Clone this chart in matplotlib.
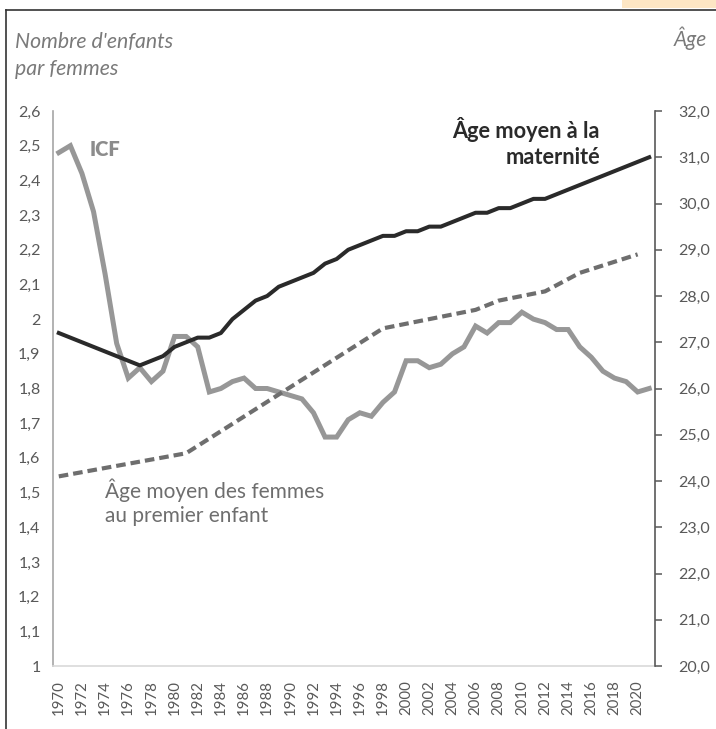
import numpy as np
import matplotlib
matplotlib.use("Agg")
import matplotlib.pyplot as plt
from matplotlib.lines import Line2D
from matplotlib.patches import Rectangle

plt.rcParams["font.family"] = ["Lato", "DejaVu Sans"]

# ── Data ─────────────────────────────────────────────────────────────────────
YEARS = list(range(1970, 2022))

# Indicateur conjoncturel de fécondité (left axis)
ICF = [2.48, 2.50, 2.42, 2.31, 2.13, 1.93, 1.83, 1.86, 1.82, 1.85,
       1.95, 1.95, 1.92, 1.79, 1.80, 1.82, 1.83, 1.80, 1.80, 1.79,
       1.78, 1.77, 1.73, 1.66, 1.66, 1.71, 1.73, 1.72, 1.76, 1.79,
       1.88, 1.88, 1.86, 1.87, 1.90, 1.92, 1.98, 1.96, 1.99, 1.99,
       2.02, 2.00, 1.99, 1.97, 1.97, 1.92, 1.89, 1.85, 1.83, 1.82,
       1.79, 1.80]

# Âge moyen à la maternité (right axis), None = no point, line joins neighbours
AGE_MAT = [27.2, None, None, None, None, None, None, 26.5, 26.6, 26.7,
           26.9, 27.0, 27.1, 27.1, 27.2, 27.5, 27.7, 27.9, 28.0, 28.2,
           28.3, 28.4, 28.5, 28.7, 28.8, 29.0, 29.1, 29.2, 29.3, 29.3,
           29.4, 29.4, 29.5, 29.5, 29.6, 29.7, 29.8, 29.8, 29.9, 29.9,
           30.0, 30.1, 30.1, None, None, None, None, None, None, None,
           None, 31.0]

# Âge moyen des femmes au premier enfant (right axis)
AGE_FIRST = [24.1, None, None, None, None, None, None, None, None, None,
             None, 24.6, None, None, None, None, None, None, None, None,
             None, None, None, None, None, None, None, None, 27.3, None,
             None, None, None, None, None, None, 27.7, None, 27.9, None,
             None, None, 28.1, None, None, 28.5, None, None, None, None,
             28.9, None]

LEFT_TICKS = [1.0, 1.1, 1.2, 1.3, 1.4, 1.5, 1.6, 1.7, 1.8,
              1.9, 2.0, 2.1, 2.2, 2.3, 2.4, 2.5, 2.6]
RIGHT_TICKS = [20, 21, 22, 23, 24, 25, 26, 27, 28, 29, 30, 31, 32]
XTICKS = YEARS[::2]

# ── Styling ──────────────────────────────────────────────────────────────────
W, H = 716, 729
C_ICF = "#979797"
C_MAT = "#2a2a2a"
C_FIRST = "#6e6e6e"
C_TICK = "#595959"


def fx(px):
    return px / W


def fy(py):
    return 1 - py / H


def series(values):
    x = [y for y, v in zip(YEARS, values) if v is not None]
    y = [v for v in values if v is not None]
    return x, y


def fr(v, fmt):
    return (fmt % v).replace(".", ",")


fig = plt.figure(figsize=(W / 100, H / 100), dpi=100)
ax = fig.add_axes([fx(53), fy(666), fx(655) - fx(53), fy(111) - fy(666)])
ax2 = ax.twinx()

ax.plot(YEARS, ICF, color=C_ICF, lw=3.6, solid_joinstyle="miter", zorder=2)

xm, ym = series(AGE_MAT)
ax2.plot(xm, ym, color=C_MAT, lw=2.9, zorder=3)
xf, yf = series(AGE_FIRST)
ax2.plot(xf, yf, color=C_FIRST, lw=3.0, dashes=(2.3, 1.2), zorder=3)

ax.set_xlim(1969.5, 2021.5)
ax.set_ylim(1, 2.6)
ax2.set_ylim(20, 32)

ax.set_xticks(XTICKS)
ax.set_xticklabels([str(y) for y in XTICKS], rotation=90, fontsize=10.8,
                   color=C_TICK)
ax.tick_params(axis="x", length=0, pad=10)

ax.set_yticks(LEFT_TICKS)
ax.set_yticklabels([fr(v, "%g") for v in LEFT_TICKS], fontsize=11.5,
                   color=C_TICK)
ax.tick_params(axis="y", length=0, pad=9)

ax2.set_yticks(RIGHT_TICKS)
ax2.set_yticklabels([fr(v, "%.1f") for v in RIGHT_TICKS], fontsize=11.5,
                    color=C_TICK)
ax2.tick_params(axis="y", length=5, width=1.1, color=C_TICK, pad=12)

for a in (ax, ax2):
    for side in ("top", "left", "right", "bottom"):
        a.spines[side].set_visible(False)
ax.spines["left"].set_visible(True)
ax.spines["left"].set_color("#a6a6a6")
ax.spines["left"].set_linewidth(1.2)
ax.spines["bottom"].set_visible(True)
ax.spines["bottom"].set_color("#d9d9d9")
ax.spines["bottom"].set_linewidth(1.2)
ax2.spines["right"].set_visible(True)
ax2.spines["right"].set_color(C_TICK)
ax2.spines["right"].set_linewidth(1.2)

# ── Annotations ──────────────────────────────────────────────────────────────
fig.text(fx(15), fy(32), "Nombre d'enfants\npar femmes", ha="left", va="top",
         fontsize=15.3, style="italic", color="#7a7a7a", linespacing=1.42)
fig.text(fx(707), fy(27), "Âge", ha="right", va="top", fontsize=15,
         style="italic", color="#7a7a7a")
fig.text(fx(90), fy(140), "ICF", ha="left", va="top", fontsize=14.5,
         fontweight="heavy", color="#8c8c8c")
fig.text(fx(600), fy(117), "Âge moyen à la\nmaternité", ha="right", va="top",
         multialignment="right", fontsize=15.7, fontweight="bold", color=C_MAT,
         linespacing=1.28)
fig.text(fx(105), fy(479), "Âge moyen des femmes\nau premier enfant",
         ha="left", va="top", fontsize=15, color=C_FIRST, linespacing=1.25)

# ── Page frame and corner tab ────────────────────────────────────────────────
fig.add_artist(Line2D([fx(6), fx(6)], [0, fy(10)], color="#333333", lw=1.2))
fig.add_artist(Line2D([fx(6), 1], [fy(10), fy(10)], color="#333333", lw=1.2))
fig.add_artist(Rectangle((fx(622), fy(8)), 1 - fx(622), 8 / H,
                         facecolor="#fde6c4", edgecolor="none"))

fig.savefig("out.png", dpi=100)
